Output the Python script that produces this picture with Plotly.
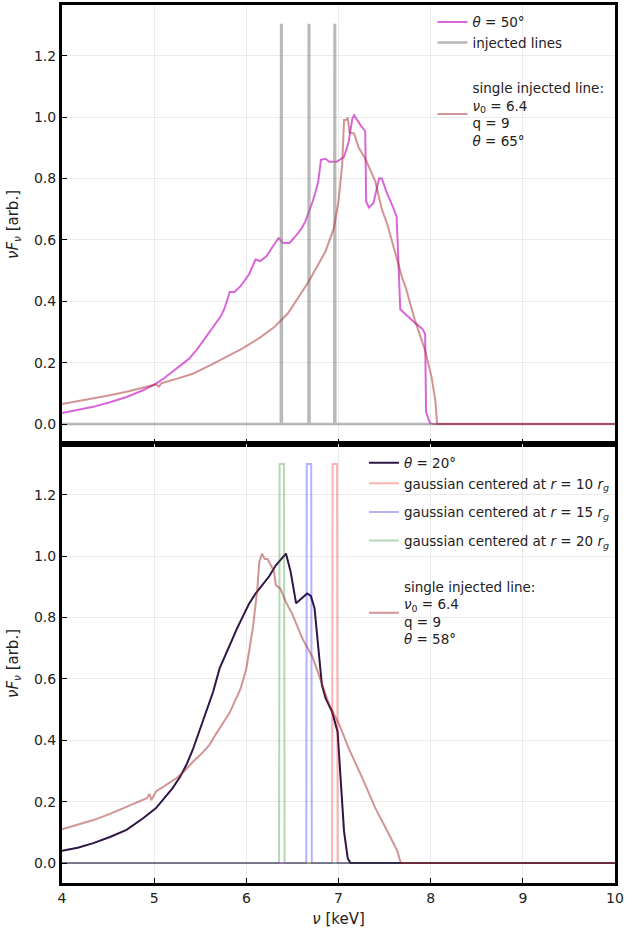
import plotly.graph_objects as go

# ---------------- data ----------------
# top panel: theta = 50 deg
t50_x = [4.00, 4.17, 4.34, 4.52, 4.70, 4.88, 5.02, 5.11, 5.20, 5.29, 5.38, 5.47, 5.56, 5.62, 5.67,
         5.72, 5.76, 5.82, 5.87, 5.94, 6.03, 6.10, 6.15, 6.22, 6.28, 6.35, 6.40, 6.47, 6.55, 6.60,
         6.64, 6.68, 6.72, 6.75, 6.78, 6.81, 6.86, 6.90, 6.98, 7.06, 7.11, 7.15, 7.17, 7.24, 7.29,
         7.30, 7.33, 7.38, 7.44, 7.47, 7.52, 7.60, 7.63, 7.65, 7.67, 7.80, 7.91, 7.94, 7.95, 7.99,
         8.02, 10.0]
t50_y = [0.036, 0.045, 0.056, 0.071, 0.088, 0.110, 0.132, 0.150, 0.170, 0.190, 0.213, 0.245, 0.283, 0.305, 0.326,
         0.350, 0.374, 0.430, 0.430, 0.450, 0.488, 0.536, 0.531, 0.547, 0.575, 0.606, 0.590, 0.590, 0.618, 0.637,
         0.660, 0.690, 0.725, 0.755, 0.790, 0.861, 0.864, 0.854, 0.854, 0.870, 0.919, 0.995, 1.006, 0.973, 0.954,
         0.725, 0.705, 0.720, 0.800, 0.800, 0.757, 0.700, 0.676, 0.530, 0.374, 0.337, 0.310, 0.293, 0.040, 0.004,
         0.0, 0.0]

# top panel: single injected line, theta = 65 deg
s65_x = [4.00, 4.17, 4.34, 4.52, 4.70, 4.86, 5.02, 5.05, 5.08, 5.25, 5.42, 5.60, 5.78, 5.95, 6.14,
         6.30, 6.45, 6.58, 6.68, 6.78, 6.86, 6.95, 7.00, 7.04, 7.06, 7.08, 7.10, 7.12, 7.17, 7.22,
         7.29, 7.40, 7.47, 7.53, 7.58, 7.64, 7.69, 7.73, 7.83, 7.94, 8.01, 8.05, 8.07, 10.0]
s65_y = [0.065, 0.074, 0.083, 0.094, 0.105, 0.117, 0.129, 0.122, 0.133, 0.148, 0.164, 0.190, 0.218, 0.245, 0.280,
         0.315, 0.360, 0.420, 0.466, 0.520, 0.563, 0.638, 0.725, 0.845, 0.990, 0.990, 0.998, 0.950, 0.946, 0.900,
         0.865, 0.790, 0.700, 0.650, 0.595, 0.530, 0.477, 0.444, 0.337, 0.240, 0.153, 0.078, 0.0, 0.0]

# injected line energies (keV) and height
inj_centers = [6.38, 6.68, 6.96]
inj_height = 1.3

# bottom panel: theta = 20 deg
t20_x = [4.00, 4.17, 4.34, 4.52, 4.70, 4.88, 5.02, 5.11, 5.20, 5.28, 5.35, 5.42, 5.49, 5.56, 5.64,
         5.71, 5.78, 5.85, 5.90, 5.96, 6.03, 6.10, 6.20, 6.25, 6.32, 6.38, 6.43, 6.48, 6.54, 6.66,
         6.70, 6.74, 6.82, 6.86, 6.93, 6.99, 7.02, 7.06, 7.10, 7.13, 10.0]
t20_y = [0.040, 0.050, 0.065, 0.085, 0.108, 0.146, 0.179, 0.210, 0.244, 0.280, 0.320, 0.370, 0.428, 0.490, 0.558,
         0.634, 0.685, 0.730, 0.765, 0.800, 0.845, 0.878, 0.915, 0.935, 0.970, 0.990, 1.008, 0.950, 0.846, 0.878,
         0.870, 0.830, 0.580, 0.537, 0.493, 0.428, 0.276, 0.103, 0.016, 0.0, 0.0]

# bottom panel: single injected line, theta = 58 deg
s58_x = [4.00, 4.17, 4.34, 4.52, 4.70, 4.92, 4.95, 4.97, 5.02, 5.13, 5.24, 5.33, 5.42, 5.51, 5.60,
         5.67, 5.78, 5.82, 5.94, 6.00, 6.07, 6.12, 6.14, 6.17, 6.20, 6.23, 6.30, 6.32, 6.37, 6.43,
         6.50, 6.61, 6.72, 6.82, 6.90, 7.01, 7.11, 7.26, 7.40, 7.55, 7.64, 7.67, 7.69, 10.0]
s58_y = [0.110, 0.125, 0.140, 0.160, 0.184, 0.211, 0.225, 0.205, 0.233, 0.255, 0.276, 0.300, 0.330, 0.355, 0.385,
         0.420, 0.470, 0.490, 0.570, 0.634, 0.764, 0.894, 0.980, 1.008, 0.990, 0.990, 0.950, 0.905, 0.894, 0.850,
         0.810, 0.730, 0.670, 0.580, 0.515, 0.450, 0.374, 0.276, 0.179, 0.092, 0.038, 0.005, 0.0, 0.0]

# gaussian line centres (keV) for r = 10, 15, 20 r_g
gauss_centers = [6.96, 6.68, 6.385]
gauss_radii = [10, 15, 20]
gauss_height = 1.3

X_RANGE = [4, 10]
Y_RANGE = [-0.065, 1.365]


def spike(centers, height, half_top, half_base):
    xs, ys = [X_RANGE[0]], [0.0]
    for c in centers:
        xs += [c - half_base, c - half_top, c + half_top, c + half_base]
        ys += [0.0, height, height, 0.0]
    xs.append(X_RANGE[1])
    ys.append(0.0)
    return xs, ys


FONT = "DejaVu Sans"
TXT = "#222"
LEG_SIZE = 13.5
fig = go.Figure()

# ---- top panel ----
fig.add_trace(go.Scatter(x=t50_x, y=t50_y, mode="lines", name="<i>θ</i> = 50°",
                         line=dict(color="rgba(191,0,191,0.6)", width=2),
                         xaxis="x", yaxis="y", legend="legend", legendgroup="a"))
ix, iy = spike(inj_centers, inj_height, 0.003, 0.006)
fig.add_trace(go.Scatter(x=ix, y=iy, mode="lines", name="injected lines",
                         line=dict(color="rgba(128,128,128,0.55)", width=2.5),
                         xaxis="x", yaxis="y", legend="legend", legendgroup="a"))
fig.add_trace(go.Scatter(x=s65_x, y=s65_y, mode="lines",
                         name="<br>single injected line:<br><i>ν</i><sub>0</sub> = 6.4<br>q = 9<br><i>θ</i> = 65°<br> ",
                         line=dict(color="rgba(165,42,42,0.5)", width=2),
                         xaxis="x", yaxis="y", legend="legend", legendgroup="b"))

# ---- bottom panel ----
fig.add_trace(go.Scatter(x=t20_x, y=t20_y, mode="lines", name="<i>θ</i> = 20°",
                         line=dict(color="#2e1646", width=2),
                         xaxis="x2", yaxis="y2", legend="legend2", legendgroup="c"))
gcolors = ["rgba(255,0,0,0.3)", "rgba(0,0,255,0.3)", "rgba(0,128,0,0.3)"]
ggroups = ["c", "d", "e"]
for c, r, col, grp in zip(gauss_centers, gauss_radii, gcolors, ggroups):
    gx, gy = spike([c], gauss_height, 0.024, 0.03)
    fig.add_trace(go.Scatter(x=gx, y=gy, mode="lines",
                             name=f"gaussian centered at <i>r</i> = {r} <i>r<sub>g</sub></i>",
                             line=dict(color=col, width=2),
                             xaxis="x2", yaxis="y2", legend="legend2", legendgroup=grp))
fig.add_trace(go.Scatter(x=s58_x, y=s58_y, mode="lines",
                         name="<br>single injected line:<br><i>ν</i><sub>0</sub> = 6.4<br>q = 9<br><i>θ</i> = 58°<br> ",
                         line=dict(color="rgba(165,42,42,0.5)", width=2),
                         xaxis="x2", yaxis="y2", legend="legend2", legendgroup="f"))

axis_common = dict(showline=True, linecolor="black", linewidth=3, mirror=True,
                   ticks="inside", ticklen=5, tickwidth=1, tickcolor="black",
                   showgrid=True, gridcolor="#ebebeb", gridwidth=1, zeroline=False,
                   tickfont=dict(family=FONT, size=14, color=TXT))

ytitle = dict(text="<i>νF<sub>ν</sub></i> [arb.]", font=dict(family=FONT, size=15, color=TXT), standoff=12)

fig.update_layout(
    width=626, height=933,
    margin=dict(l=62, r=9, t=2, b=50),
    paper_bgcolor="white", plot_bgcolor="white",
    font=dict(family=FONT, size=13, color=TXT),
    xaxis=dict(domain=[0, 1], anchor="y", range=X_RANGE, dtick=1, showticklabels=False,
               matches="x2", **axis_common),
    yaxis=dict(domain=[0.5, 1], anchor="x", range=Y_RANGE, tickvals=[0, 0.2, 0.4, 0.6, 0.8, 1.0, 1.2],
               tickformat=".1f", title=ytitle, **axis_common),
    xaxis2=dict(domain=[0, 1], anchor="y2", range=X_RANGE, dtick=1,
                title=dict(text="<i>ν</i> [keV]", font=dict(family=FONT, size=15, color=TXT), standoff=9),
                **axis_common),
    yaxis2=dict(domain=[0, 0.5], anchor="x2", range=Y_RANGE, tickvals=[0, 0.2, 0.4, 0.6, 0.8, 1.0, 1.2],
                tickformat=".1f", title=ytitle, **axis_common),
    legend=dict(x=0.67, y=0.998, xanchor="left", yanchor="top", bgcolor="rgba(0,0,0,0)",
                font=dict(family=FONT, size=LEG_SIZE, color=TXT), itemwidth=30, tracegroupgap=7),
    legend2=dict(x=0.546, y=0.496, xanchor="left", yanchor="top", bgcolor="rgba(0,0,0,0)",
                 font=dict(family=FONT, size=LEG_SIZE, color=TXT), itemwidth=30, tracegroupgap=8),
    showlegend=True,
)

fig.write_html("out.html")
